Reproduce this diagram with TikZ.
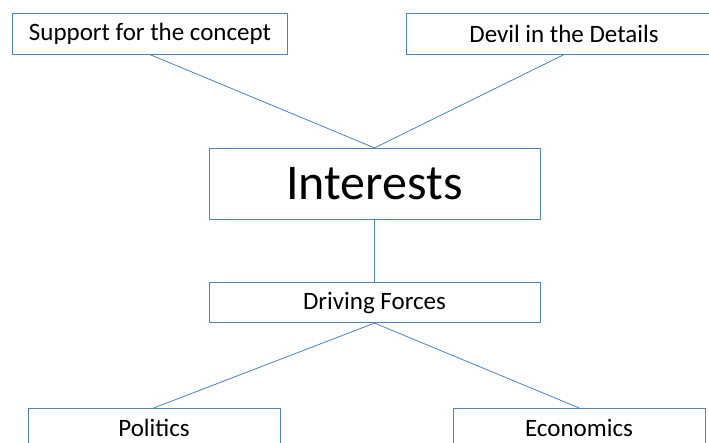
\documentclass[tikz,border=0pt]{standalone}
\usepackage{fontspec}
\setmainfont{Carlito}
\definecolor{boxblue}{RGB}{79,129,189}
\begin{document}
\begin{tikzpicture}[x=1pt, y=-1pt, line join=round, line cap=round,
	box/.style={draw=boxblue, line width=0.8pt, inner sep=0pt, font=\fontsize{25}{29}\selectfont},
	link/.style={draw=boxblue, line width=0.8pt}]
						\useasboundingbox (0,0) rectangle (709,443);
						\clip (0,0) rectangle (709,443);
						\node[box, minimum width=275pt, minimum height=41pt] (support) at (150,33.7) {Support for the concept};
						\node[box, minimum width=316pt, minimum height=41pt] (devil) at (564,33.7) {Devil in the Details};
						\node[box, minimum width=331pt, minimum height=71pt, font=\fontsize{50}{58}\selectfont] (interests) at (374.5,183.8) {Interests};
						\node[box, minimum width=331pt, minimum height=40pt] (driving) at (374.5,302.7) {Driving Forces};
						\node[box, minimum width=252pt, minimum height=40pt] (politics) at (154,428.3) {Politics};
						\node[box, minimum width=252pt, minimum height=40pt] (economics) at (579,428.3) {Economics};
						\draw[link] (support.south) -- (interests.north) -- (devil.south);
						\draw[link] (interests.south) -- (driving.north);
						\draw[link] (politics.north) -- (driving.south) -- (economics.north);
					\end{tikzpicture}
\end{document}
